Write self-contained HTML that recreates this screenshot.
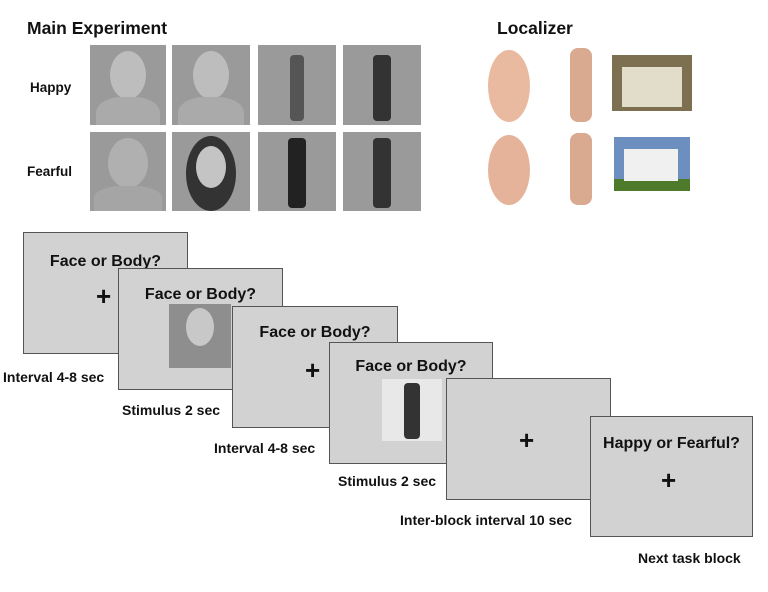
<!DOCTYPE html>
<html><head><style>
body{margin:0;width:768px;height:592px;background:#fff;position:relative;overflow:hidden;font-family:"Liberation Sans",sans-serif;font-weight:bold;color:#111}
.a{position:absolute}
.t{font-size:17.5px}
.s{position:absolute;background:#d2d2d2;border:1.5px solid #555;box-sizing:border-box}
.q{position:absolute;width:100%;text-align:center;font-size:16px;top:20px}
.p{position:absolute;font-size:26px;font-weight:bold}
.l{position:absolute;font-size:14px}
.ph{position:absolute;background:#9a9a9a;overflow:hidden}
.hd{position:absolute;border-radius:50%;background:#bdbdbd}
.bd{position:absolute;background:#444;border-radius:4px}
</style></head><body>
<div class="a t" style="left:27px;top:18px">Main Experiment</div>
<div class="a t" style="left:497px;top:18px">Localizer</div>
<div class="l" style="left:30px;top:80px;font-size:13.5px">Happy</div>
<div class="l" style="left:27px;top:164px;font-size:13.5px">Fearful</div>

<div class="ph" style="left:90px;top:45px;width:76px;height:80px"><div class="hd" style="left:20px;top:6px;width:36px;height:48px"></div><div class="hd" style="left:6px;top:52px;width:64px;height:40px;border-radius:40% 40% 0 0;background:#aaa"></div></div>
<div class="ph" style="left:172px;top:45px;width:78px;height:80px"><div class="hd" style="left:21px;top:6px;width:36px;height:48px"></div><div class="hd" style="left:6px;top:52px;width:66px;height:40px;border-radius:40% 40% 0 0;background:#aaa"></div></div>
<div class="ph" style="left:258px;top:45px;width:78px;height:80px"><div class="bd" style="left:32px;top:10px;width:14px;height:66px;background:#555"></div></div>
<div class="ph" style="left:343px;top:45px;width:78px;height:80px"><div class="bd" style="left:30px;top:10px;width:18px;height:66px;background:#333"></div></div>
<div class="ph" style="left:90px;top:132px;width:76px;height:79px"><div class="hd" style="left:18px;top:6px;width:40px;height:50px;background:#b0b0b0"></div><div class="hd" style="left:4px;top:54px;width:68px;height:30px;border-radius:40% 40% 0 0;background:#a5a5a5"></div></div>
<div class="ph" style="left:172px;top:132px;width:78px;height:79px"><div class="hd" style="left:14px;top:4px;width:50px;height:75px;background:#333"></div><div class="hd" style="left:24px;top:14px;width:30px;height:42px;background:#c4c4c4"></div></div>
<div class="ph" style="left:258px;top:132px;width:78px;height:79px"><div class="bd" style="left:30px;top:6px;width:18px;height:70px;background:#222"></div></div>
<div class="ph" style="left:343px;top:132px;width:78px;height:79px"><div class="bd" style="left:30px;top:6px;width:18px;height:70px;background:#333"></div></div>

<div class="hd" style="left:488px;top:50px;width:42px;height:72px;background:#e9b9a0"></div>
<div class="hd" style="left:488px;top:135px;width:42px;height:70px;background:#e5b39a"></div>
<div class="bd" style="left:570px;top:48px;width:22px;height:74px;background:#d9aa90;border-radius:8px"></div>
<div class="bd" style="left:570px;top:133px;width:22px;height:72px;background:#d9aa90;border-radius:8px"></div>
<div class="a" style="left:612px;top:55px;width:80px;height:56px;background:#7d7050"><div class="a" style="left:10px;top:12px;width:60px;height:40px;background:#e2dccb"></div></div>
<div class="a" style="left:614px;top:137px;width:76px;height:54px;background:#6d8fc0"><div class="a" style="left:0;top:42px;width:76px;height:12px;background:#4e7a2c"></div><div class="a" style="left:10px;top:12px;width:54px;height:32px;background:#f0f0f0"></div></div>

<div class="s" style="left:23px;top:232px;width:165px;height:122px"><div class="q">Face or Body?</div><div class="p" style="left:72px;top:48px">+</div></div>
<div class="l" style="left:3px;top:369px">Interval 4-8 sec</div>
<div class="s" style="left:118px;top:268px;width:165px;height:122px"><div class="q" style="top:17px">Face or Body?</div><div class="ph" style="left:50px;top:35px;width:62px;height:64px;background:#8e8e8e"><div class="hd" style="left:17px;top:4px;width:28px;height:38px;background:#c8c8c8"></div></div></div>
<div class="l" style="left:122px;top:402px">Stimulus 2 sec</div>
<div class="s" style="left:232px;top:306px;width:166px;height:122px"><div class="q" style="top:17px">Face or Body?</div><div class="p" style="left:72px;top:48px">+</div></div>
<div class="l" style="left:214px;top:440px">Interval 4-8 sec</div>
<div class="s" style="left:329px;top:342px;width:164px;height:122px"><div class="q" style="top:15px">Face or Body?</div><div class="a" style="left:52px;top:36px;width:60px;height:62px;background:#e8e8e8"><div class="bd" style="left:22px;top:4px;width:16px;height:56px;background:#333"></div></div></div>
<div class="l" style="left:338px;top:473px">Stimulus 2 sec</div>
<div class="s" style="left:446px;top:378px;width:165px;height:122px"><div class="p" style="left:72px;top:46px">+</div></div>
<div class="l" style="left:400px;top:512px">Inter-block interval 10 sec</div>
<div class="s" style="left:590px;top:416px;width:163px;height:121px"><div class="q" style="top:18px">Happy or Fearful?</div><div class="p" style="left:70px;top:48px">+</div></div>
<div class="l" style="left:638px;top:550px">Next task block</div>
</body></html>
